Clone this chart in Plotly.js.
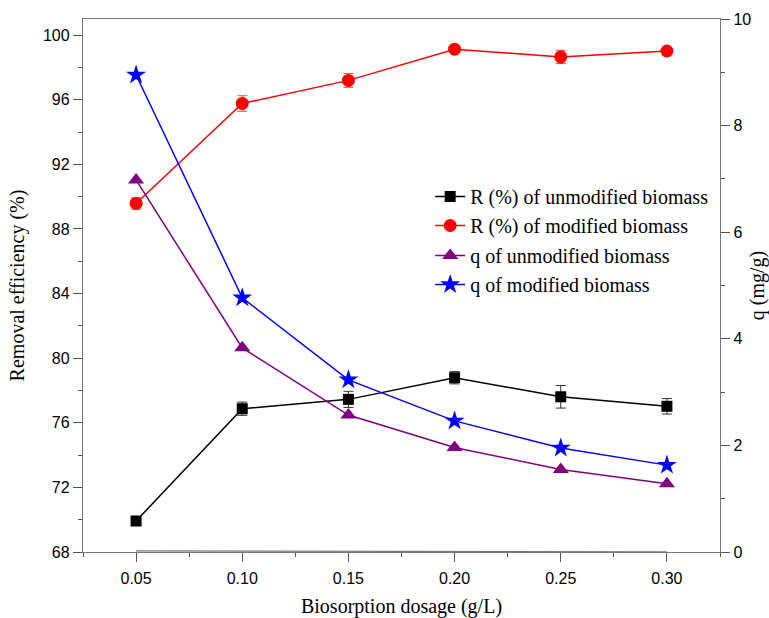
<!DOCTYPE html>
<html>
<head>
<meta charset="utf-8">
<script src="https://cdn.plot.ly/plotly-3.0.1.min.js"></script>
<style>html,body{margin:0;padding:0;background:#fff;}#chart{width:769px;height:618px;}</style>
</head>
<body>
<div id="chart"></div>
<script>
const dosage = [0.05, 0.10, 0.15, 0.20, 0.25, 0.30];
const rUnmod = [69.92, 76.87, 77.45, 78.79, 77.61, 77.02];
const rUnmodErr = [0.2, 0.41, 0.5, 0.38, 0.7, 0.48];
const rMod = [89.58, 95.77, 97.2, 99.13, 98.65, 99.02];
const rModErr = [0.35, 0.48, 0.43, 0.1, 0.41, 0.1];
const qUnmod = [6.98, 3.83, 2.57, 1.96, 1.55, 1.28];
const qMod = [8.95, 4.77, 3.23, 2.46, 1.95, 1.63];
const baseline = [0.02, 0.015, 0.01, 0.008, 0.005, 0.003];
const xTicks = [0.05, 0.10, 0.15, 0.20, 0.25, 0.30];
const xTickText = ["0.05", "0.10", "0.15", "0.20", "0.25", "0.30"];
const names = ["R (%) of unmodified biomass", "R (%) of modified biomass", "q of unmodified biomass", "q of modified biomass"];

const serif = "Liberation Serif, Times New Roman, serif";
const sans = "Liberation Sans, Arial, sans-serif";

const traces = [
  {x: dosage, y: baseline, yaxis: 'y2', mode: 'lines', line: {color: '#777', width: 1.2}, showlegend: false, hoverinfo: 'skip'},
  {x: dosage, y: rUnmod, name: names[0], mode: 'lines+markers', legend: 'legend',
   line: {color: '#000', width: 1.5}, marker: {symbol: 'square', size: 11, color: '#000'},
   error_y: {type: 'data', array: rUnmodErr, visible: true, color: '#333', thickness: 1, width: 5}},
  {x: dosage, y: rMod, name: names[1], mode: 'lines+markers', legend: 'legend',
   line: {color: '#ff0000', width: 1.5}, marker: {symbol: 'circle', size: 13, color: '#ff0000'},
   error_y: {type: 'data', array: rModErr, visible: true, color: '#ff4040', thickness: 1, width: 5}},
  {x: dosage, y: qUnmod, name: names[2], yaxis: 'y2', mode: 'lines+markers', legend: 'legend2',
   line: {color: '#800080', width: 1.5}, marker: {symbol: 'triangle-up', size: 14, color: '#800080'}},
  {x: dosage, y: qMod, name: names[3], yaxis: 'y2', mode: 'lines+markers', legend: 'legend2',
   line: {color: '#0000ff', width: 1.5}, marker: {symbol: 'star', size: 15, color: '#0000ff'}}
];

const axisCommon = {showline: true, linecolor: '#777', linewidth: 1.2, showgrid: false, zeroline: false,
  ticks: 'outside', ticklen: 9, tickcolor: '#555', tickfont: {family: sans, size: 16, color: '#000'}};
const legendFont = {family: serif, size: 20, color: '#000'};

const layout = {
  width: 769, height: 618,
  margin: {l: 83, r: 49, t: 19, b: 66},
  paper_bgcolor: '#fff', plot_bgcolor: '#fff',
  showlegend: true,
  legend: {x: 0.545, y: 0.7036, xanchor: 'left', yanchor: 'top', bgcolor: 'rgba(0,0,0,0)', font: legendFont},
  legend2: {x: 0.545, y: 0.593, xanchor: 'left', yanchor: 'top', bgcolor: 'rgba(0,0,0,0)', font: legendFont},
  xaxis: Object.assign({}, axisCommon, {range: [0.025, 0.325], tickvals: xTicks, ticktext: xTickText,
    mirror: true, ticklabelstandoff: 3, minor: {dtick: 0.05, tick0: 0.025, ticks: 'outside', ticklen: 4, tickcolor: '#555'},
    title: {text: 'Biosorption dosage (g/L)', font: {family: serif, size: 20, color: '#000'}, standoff: 13}}),
  yaxis: Object.assign({}, axisCommon, {range: [68, 101], tick0: 68, dtick: 4,
    minor: {dtick: 2, ticks: 'outside', ticklen: 4, tickcolor: '#555'},
    title: {text: 'Removal efficiency (%)', font: {family: serif, size: 20, color: '#000'}, standoff: 12}}),
  yaxis2: Object.assign({}, axisCommon, {range: [0, 10], dtick: 2, overlaying: 'y', side: 'right',
    minor: {dtick: 1, ticks: 'outside', ticklen: 4, tickcolor: '#555'},
    title: {text: 'q (mg/g)', font: {family: serif, size: 20, color: '#000'}, standoff: 8}})
};

Plotly.newPlot('chart', traces, layout, {displayModeBar: false, staticPlot: true});
</script>
</body>
</html>
